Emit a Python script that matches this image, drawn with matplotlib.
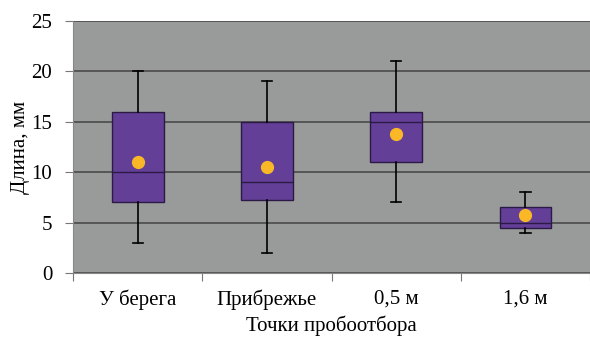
import numpy as np
import matplotlib.pyplot as plt

# Sampling points and box statistics
points = ['У берега', 'Прибрежье', '0,5 м', '1,6 м']
whis_lo = [3, 2, 7, 4]
q1 = [7, 7.2, 11, 4.5]
medians = [10, 9, 15, 5]
q3 = [16, 15, 16, 6.5]
whis_hi = [20, 19, 21, 8]
means = [11, 10.5, 13.8, 5.7]

plt.rcParams['font.family'] = ['Liberation Serif', 'DejaVu Serif']

fig = plt.figure(figsize=(5.9, 3.39), dpi=100)
ax = fig.add_axes([0.124, 0.195, 0.876, 0.743])
ax.set_facecolor('#999b9b')

stats = []
for i in range(len(points)):
    stats.append({'label': points[i], 'whislo': whis_lo[i], 'q1': q1[i], 'med': medians[i],
                  'q3': q3[i], 'whishi': whis_hi[i], 'mean': means[i], 'fliers': []})

pos = np.arange(1, len(points) + 1)
ax.bxp(stats, positions=pos, widths=0.4, showmeans=True, patch_artist=True,
       boxprops=dict(facecolor='#643f98', edgecolor='#2a1a45', linewidth=1),
       medianprops=dict(color='#2a1a45', linewidth=1),
       whiskerprops=dict(color='black', linewidth=1.2),
       capprops=dict(color='black', linewidth=1.2),
       capwidths=0.08,
       meanprops=dict(marker='o', markerfacecolor='#fbb826', markeredgecolor='#fbb826',
                      markersize=8.5),
       zorder=3)

ax.set_ylim(0, 25)
ax.set_yticks(np.arange(0, 26, 5))
ax.set_xlim(0.5, len(points) + 0.5)
ax.set_xticks(np.arange(0.5, len(points) + 1, 1))
ax.set_xticklabels([])
ax.set_xticks(pos, minor=True)
ax.set_xticklabels(points, minor=True)
ax.tick_params(axis='x', which='minor', length=0, pad=12, labelsize=15)
ax.tick_params(axis='x', which='major', length=6, color='#777777')
ax.tick_params(axis='y', length=6, color='#777777', labelsize=15, pad=9)

ax.grid(axis='y', color='#4a4a4a', linewidth=1.2, zorder=1)
ax.set_axisbelow(True)
for s in ['top', 'right']:
    ax.spines[s].set_visible(False)
for s in ['left', 'bottom']:
    ax.spines[s].set_color('#888888')

ax.set_ylabel('Длина, мм', fontsize=15, labelpad=1)
ax.set_xlabel('Точки пробоотбора', fontsize=15, labelpad=4)

fig.savefig('out.png', dpi=100)
